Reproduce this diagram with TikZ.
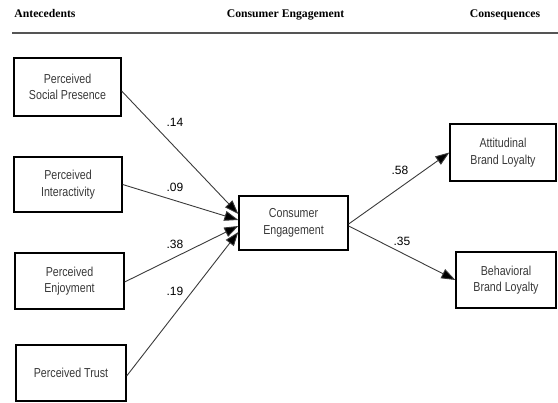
\documentclass[tikz,border=0pt]{standalone}
\usepackage{fontspec}
\setmainfont{Liberation Serif}
\newfontfamily\boxfont[FakeStretch=0.82]{Liberation Sans}
\newfontfamily\labfont{Liberation Sans}
\usetikzlibrary{arrows.meta,calc}
\definecolor{boxtext}{HTML}{383838}
\definecolor{arrcol}{HTML}{3A3A3A}
\definecolor{rulecol}{HTML}{555555}
\begin{document}
\begin{tikzpicture}[x=1pt,y=-1pt,
  box/.style={draw=black, line width=1.3pt, align=center, inner sep=0pt,
    text=boxtext, font=\boxfont\fontsize{13}{16.5}\selectfont},
  hdr/.style={anchor=base, inner sep=0pt, font=\bfseries\fontsize{11.7}{14}\selectfont},
  coef/.style={inner sep=0pt, font=\labfont\fontsize{12}{14}\selectfont},
  arr/.style={draw=arrcol, line width=0.9pt, -{Triangle[length=14pt,width=10pt,fill=black]}}]
\useasboundingbox (0,0) rectangle (558,403);
% headers
\node[hdr] (h1) at (45,18) {Antecedents};
\node[hdr] (h2) at (285.5,18) {Consumer Engagement};
\node[hdr] (h3) at (505,18) {Consequences};
\coordinate (r1) at (12,33);
\coordinate (r2) at (558,33);
\draw[rulecol, line width=1.4pt] (r1) -- (r2);
% boxes
\node[box, minimum width=107pt, minimum height=58pt] (sp) at (67.5,87) {Perceived\\Social Presence};
\node[box, minimum width=108pt, minimum height=55pt] (int) at (68,184.5) {Perceived\\Interactivity};
\node[box, minimum width=109pt, minimum height=56pt] (enj) at (69.5,281) {Perceived\\Enjoyment};
\node[box, minimum width=110pt, minimum height=56pt] (tr) at (71,373) {Perceived Trust};
\node[box, minimum width=109pt, minimum height=54pt] (ce) at (293.5,223) {Consumer\\Engagement};
\node[box, minimum width=106pt, minimum height=57pt] (att) at (503,152.5) {Attitudinal\\Brand Loyalty};
\node[box, minimum width=100pt, minimum height=56pt] (beh) at (506,280) {Behavioral\\Brand Loyalty};
% arrows
\draw[arr] ($(sp.east)+(0,4)$) -- ($(ce.west)+(0,-9)$);
\draw[arr] (int.east) -- ($(ce.west)+(0,-3)$);
\draw[arr] ($(enj.east)+(0,1)$) -- ($(ce.west)+(0,3)$);
\draw[arr] ($(tr.east)+(0,3)$) -- ($(ce.west)+(0,9)$);
\draw[arr] ($(ce.east)+(0,1)$) -- (att.west);
\draw[arr] ($(ce.east)+(0,3)$) -- (beh.west);
% coefficients
\node[coef] (c1) at (175,122) {.14};
\node[coef] (c2) at (175,187) {.09};
\node[coef] (c3) at (175,244) {.38};
\node[coef] (c4) at (175,291) {.19};
\node[coef] (c5) at (400,170) {.58};
\node[coef] (c6) at (402,241) {.35};
\end{tikzpicture}
\end{document}
